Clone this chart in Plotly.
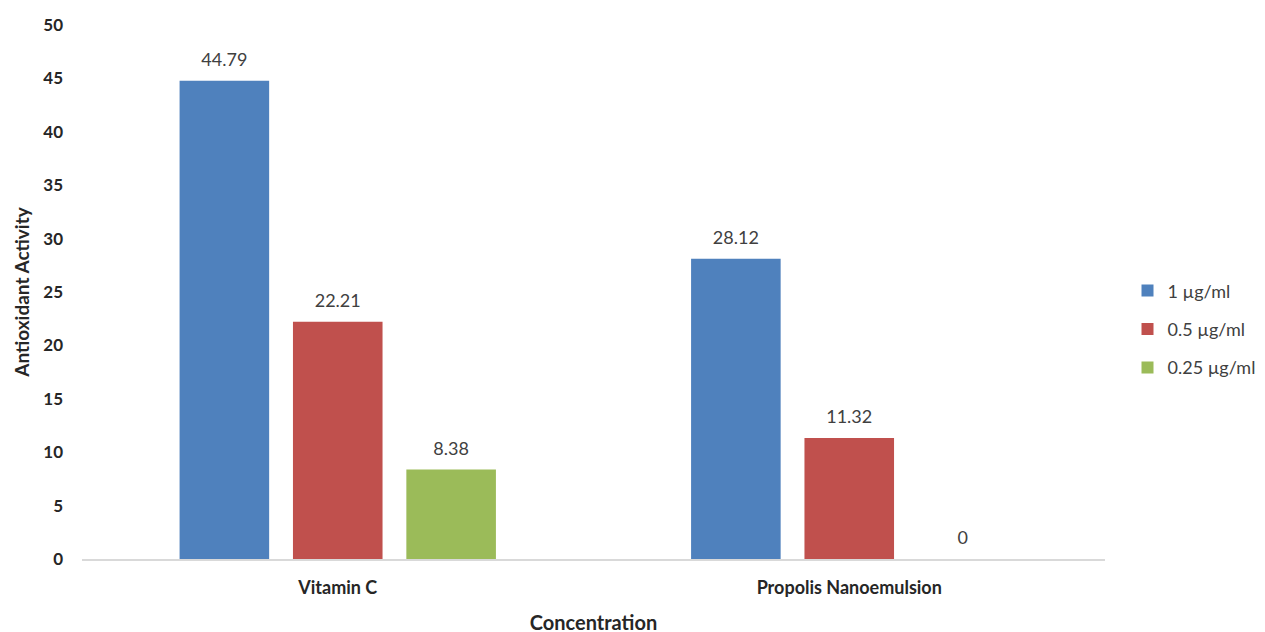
import plotly.graph_objects as go

categories = ["Vitamin C", "Propolis Nanoemulsion"]
series_names = ["1 µg/ml", "0.5 µg/ml", "0.25 µg/ml"]
values_1 = [44.79, 28.12]
values_05 = [22.21, 11.32]
values_025 = [8.38, 0]
colors = ["#4F81BD", "#C0504D", "#9BBB59"]

FONT = "Lato, Liberation Sans, sans-serif"
fig = go.Figure()
for name, vals, col in zip(series_names, [values_1, values_05, values_025], colors):
    fig.add_trace(go.Bar(
        x=categories, y=vals, name=name, marker_color=col, marker_line_width=0,
        legendgroup=name, offsetgroup=name,
    ))
for name, vals in zip(series_names, [values_1, values_05, values_025]):
    fig.add_trace(go.Scatter(
        x=categories, y=vals, mode="markers+text", legendgroup=name, offsetgroup=name,
        showlegend=False, hoverinfo="skip",
        marker=dict(size=15, color="rgba(0,0,0,0)"),
        text=[f"{v:g}" for v in vals], textposition="top center", cliponaxis=False,
        textfont=dict(family=FONT, size=18, color="#404040"),
    ))

fig.update_layout(
    width=1265, height=632,
    margin=dict(l=74, r=168, t=17, b=81),
    plot_bgcolor="white", paper_bgcolor="white",
    barmode="group", bargap=0.335, bargroupgap=0.21,
    scattermode="group", scattergap=0.335,
    font=dict(family=FONT, color="#404040"),
    legend=dict(x=1.022, y=0.43, yanchor="middle", xanchor="left",
                font=dict(family=FONT, size=18, color="#404040"),
                tracegroupgap=12, itemwidth=30),
    showlegend=True,
)
fig.update_xaxes(
    automargin=False,
    showline=True, linecolor="#D9D9D9", linewidth=2, ticks="",
    tickfont=dict(family=FONT, size=18, color="#262626", weight="bold"),
    ticklabelstandoff=11,
    title=dict(text="<b>Concentration</b>", font=dict(family=FONT, size=20, color="#262626"), standoff=19),
)
fig.update_yaxes(
    automargin=False,
    range=[0, 50], dtick=5, showgrid=False, zeroline=False, showline=False,
    tickfont=dict(family=FONT, size=17, color="#262626", weight="bold"),
    ticklabelstandoff=18,
    title=dict(text="<b>Antioxidant Activity</b>", font=dict(family=FONT, size=19, color="#262626"), standoff=8),
)
fig.write_html("out.html")
